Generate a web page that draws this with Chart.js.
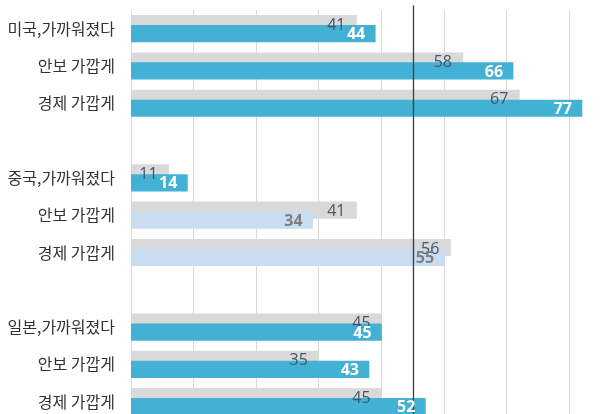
<!DOCTYPE html>
<html>
<head>
<meta charset="utf-8">
<script src="https://cdn.jsdelivr.net/npm/chart.js@4.4.1/dist/chart.umd.min.js"></script>
<style>
  html, body { margin: 0; padding: 0; background: #ffffff; overflow: hidden; }
  #wrap { position: relative; width: 609px; height: 414px; }
</style>
</head>
<body>
<div id="wrap"><canvas id="chart"></canvas></div>
<script>
// Survey rows, grouped by country (three rows each)
const categories = [
  '미국,가까워졌다', '안보 가깝게', '경제 가깝게',
  '중국,가까워졌다', '안보 가깝게', '경제 가깝게',
  '일본,가까워졌다', '안보 가깝게', '경제 가깝게'
];
// Earlier survey (grey bars) and latest survey (blue bars)
const previousValues = [41, 58, 67, 11, 41, 56, 45, 35, 45];
const currentValues  = [44, 66, 77, 14, 34, 55, 45, 43, 52];
// Rows whose latest bar is drawn in the pale tone
const paleRows = [4, 5];
// Vertical grid positions and the 50% marker
const gridTicks = [5, 15, 25, 35, 45, 55, 65, 75];
const referenceValue = 50;

// Each group of three rows is followed by an empty row
const rowOf = i => i + Math.floor(i / 3);
const rowCount = rowOf(categories.length - 1) + 1;
const rowLabels = Array.from({ length: rowCount }, () => '');
categories.forEach((c, i) => { rowLabels[rowOf(i)] = c; });

const PAIR_SHIFT = 0.134;   // half the vertical offset between the two bars of a row
const BLUE = '#43b1d4';
const PALE = '#c9ddf0';
const GREY = '#d9d9d9';

const previousData = previousValues.map((v, i) => ({ x: v, y: rowOf(i) - PAIR_SHIFT }));
const currentData  = currentValues.map((v, i) => ({ x: v, y: rowOf(i) + PAIR_SHIFT }));

const referenceLine = {
  id: 'referenceLine',
  afterDatasetsDraw(chart) {
    const { ctx, chartArea, scales } = chart;
    const x = Math.round(scales.x.getPixelForValue(referenceValue)) + 0.5;
    ctx.save();
    ctx.strokeStyle = '#3c3c3c';
    ctx.lineWidth = 1.3;
    ctx.beginPath();
    ctx.moveTo(x, chartArea.top - 4.5);
    ctx.lineTo(x, chart.height);
    ctx.stroke();
    ctx.restore();
  }
};

const valueLabels = {
  id: 'valueLabels',
  afterDatasetsDraw(chart) {
    const { ctx } = chart;
    ctx.save();
    ctx.textAlign = 'right';
    ctx.textBaseline = 'middle';
    // grey bar values
    chart.getDatasetMeta(0).data.forEach((el, i) => {
      ctx.font = '16px "Open Sans", sans-serif';
      ctx.fillStyle = '#44546a';
      ctx.fillText(String(previousValues[i]), el.x - 11, el.y + 1.5);
    });
    // blue bar values
    chart.getDatasetMeta(1).data.forEach((el, i) => {
      const pale = paleRows.includes(i);
      ctx.font = 'bold 16px "Open Sans", sans-serif';
      ctx.fillStyle = pale ? '#7f7f7f' : '#ffffff';
      ctx.fillText(String(currentValues[i]), el.x - 10, el.y + 1);
    });
    ctx.restore();
  }
};

new Chart(document.getElementById('chart'), {
  type: 'bar',
  data: {
    datasets: [
      {
        label: '이전',
        data: previousData,
        backgroundColor: GREY,
        barThickness: 16.5,
        grouped: false,
        order: 2
      },
      {
        label: '최근',
        data: currentData,
        backgroundColor: currentValues.map((v, i) => paleRows.includes(i) ? PALE : BLUE),
        barThickness: 16.5,
        grouped: false,
        order: 1
      }
    ]
  },
  options: {
    indexAxis: 'y',
    responsive: true,
    maintainAspectRatio: false,
    animation: false,
    devicePixelRatio: 1,
    layout: { padding: { top: 10, right: 2, bottom: 0, left: 0 } },
    plugins: { legend: { display: false }, tooltip: { enabled: false } },
    scales: {
      x: {
        type: 'linear',
        min: 5,
        max: 81,
        afterBuildTicks: s => { s.ticks = gridTicks.map(v => ({ value: v })); },
        afterFit: s => { s.height = 0; s.paddingLeft = 0; s.paddingRight = 0; },
        ticks: { display: false },
        grid: { color: '#d9d9d9', lineWidth: 1, drawTicks: false },
        border: { display: false }
      },
      y: {
        type: 'linear',
        reverse: true,
        offset: false,
        min: -0.5,
        max: rowCount - 0.5 - 0.17,
        afterBuildTicks: s => { s.ticks = rowLabels.map((_, i) => ({ value: i })); },
        afterFit: s => { s.width = 131; s.paddingTop = 0; s.paddingBottom = 0; },
        ticks: {
          autoSkip: false,
          padding: 16,
          color: '#333333',
          font: { family: '"Noto Sans CJK KR", sans-serif', size: 16 },
          callback: v => rowLabels[v] || ''
        },
        grid: { display: false, drawTicks: false, offset: false },
        border: { display: false }
      }
    }
  },
  plugins: [referenceLine, valueLabels]
});
</script>
</body>
</html>
